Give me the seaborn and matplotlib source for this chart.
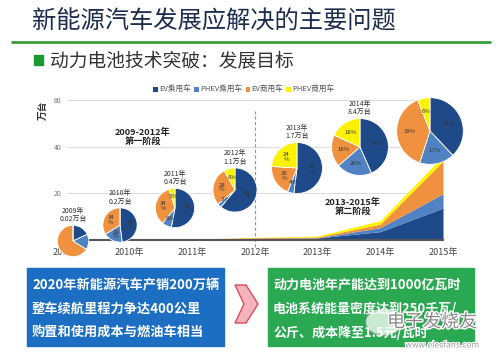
import matplotlib
matplotlib.use("Agg")  # headless rendering
import matplotlib.pyplot as plt
import matplotlib.patheffects as pe
from matplotlib.lines import Line2D
from matplotlib.patches import Rectangle, Polygon, Circle
import seaborn as sns

W, H = 500, 362

# ---- data (万台) ----
years = [2009, 2010, 2011, 2012, 2013, 2014, 2015]
year_labels = ["2009年", "2010年", "2011年", "2012年", "2013年", "2014年", "2015年"]
series_names = ["EV乘用车", "PHEV乘用车", "EV商用车", "PHEV商用车"]

ev_passenger = [0.004, 0.10, 0.21, 0.67, 0.88, 3.6, 13.7]
phev_passenger = [0.003, 0.04, 0.03, 0.03, 0.07, 1.7, 6.1]
ev_commercial = [0.013, 0.07, 0.14, 0.31, 0.34, 1.5, 14.0]
phev_commercial = [0.0, 0.0, 0.02, 0.09, 0.41, 1.5, 2.2]

pie_titles = ["2009年\n0.02万台", "2010年\n0.2万台", "2011年\n0.4万台", "2012年\n1.1万台",
              "2013年\n1.7万台", "2014年\n8.4万台", ""]
pie_shares = [
    [18, 16, 66, 0],
    [48, 18, 34, 0],
    [53, 8, 34, 5],
    [61, 3, 28, 8],
    [52, 4, 20, 24],
    [43, 20, 18, 18],
    [38, 17, 39, 6],
]
pie_show_pct = [False, True, True, True, True, True, True]

box_left_lines = ["2020年新能源汽车产销200万辆", "整车续航里程力争达400公里", "购置和使用成本与燃油车相当"]
box_right_lines = ["动力电池年产能达到1000亿瓦时", "电池系统能量密度达到250千瓦/", "公斤、成本降至1.5元/瓦时"]

# ---- layout (pixels) ----
pie_layout = [(73, 241, 16), (120, 225, 17.5), (175, 208, 20), (235, 190, 22.5),
              (297, 168, 26), (360, 147, 29), (430, 131, 34)]
colors = ["#1f4a8a", "#5082c4", "#f0913f", "#fff200"]


def fx(x):
    return x / W


def fy(y):
    return 1 - y / H


sns.set_style("white")
plt.rcParams["font.family"] = ["Noto Sans CJK SC", "DejaVu Sans"]

fig = plt.figure(figsize=(W / 100, H / 100), dpi=100)

# header
fig.text(fx(32), fy(22), "新能源汽车发展应解决的主要问题", fontsize=17.5, color="#1f2d4d",
         ha="left", va="center")
fig.add_artist(Line2D([fx(12), fx(490)], [fy(42), fy(42)], color="#3a9d3a", lw=2))
fig.add_artist(Rectangle((fx(34), fy(65)), 9 / W, 10 / H, color="#1a9a30"))
fig.text(fx(50), fy(61), "动力电池技术突破：发展目标", fontsize=13.5, color="#333333",
         ha="left", va="center")

# main area chart
ax = fig.add_axes([fx(67), fy(240), (443 - 67) / W, 140 / H])
ax.stackplot(years, ev_passenger, phev_passenger, ev_commercial, phev_commercial,
             colors=colors, labels=series_names, lw=0)
ax.set_xlim(2009, 2015)
ax.set_ylim(0, 60)
ax.set_yticks([0, 20, 40, 60])
ax.set_xticks(years)
ax.set_xticklabels(year_labels)
ax.tick_params(axis="x", labelsize=6.5, colors="#444444", length=0, pad=6)
ax.tick_params(axis="y", labelsize=5, colors="#777777", length=0, pad=4)
ax.yaxis.grid(True, color="#dcdcdc", lw=0.8)
for s in ["left", "right", "top"]:
    ax.spines[s].set_visible(False)
ax.spines["bottom"].set_color("#555555")
ax.spines["bottom"].set_linewidth(1.5)
ax.axvline(2012, ymin=-0.05, ymax=0.92, color="#8a9bb0", ls=(0, (3, 2)), lw=0.8, clip_on=False)
ax.set_axisbelow(True)

fig.text(fx(43), fy(110), "万台", rotation=90, fontsize=7, fontweight="bold",
         color="#333333", ha="center", va="center")
fig.legend(loc="center", bbox_to_anchor=(fx(244), fy(90)), ncol=4, fontsize=5.5,
           frameon=False, handlelength=0.6, handleheight=0.6, columnspacing=0.4,
           handletextpad=0.2, labelcolor="#555555")

# phase labels
fig.text(fx(143), fy(137), "2009-2012年\n第一阶段", fontsize=6.6, fontweight="bold",
         color="#222222", ha="center", va="center", linespacing=1.1)
fig.text(fx(353), fy(207), "2013-2015年\n第二阶段", fontsize=6.6, fontweight="bold",
         color="#222222", ha="center", va="center", linespacing=1.1)

# pies
for i, (cx, cy, r) in enumerate(pie_layout):
    pax = fig.add_axes([fx(cx - r), fy(cy + r), 2 * r / W, 2 * r / H])
    shares = pie_shares[i]
    big = r > 27

    def fmt(p, big=big):
        if p < 0.5:
            return ""
        if big or p < 10:
            return f"{p:.0f}%"
        return f"{p:.0f}\n%"

    pax.pie(shares, colors=colors, startangle=90, counterclock=False,
            wedgeprops=dict(edgecolor="white", linewidth=0.6),
            autopct=fmt if pie_show_pct[i] else None, pctdistance=0.6,
            textprops=dict(fontsize=4.3, color="#333333", linespacing=0.9))
    pax.set_xlim(-1.02, 1.02)
    pax.set_ylim(-1.02, 1.02)
    pax.set_aspect("equal")
    pax.axis("off")
    if pie_titles[i]:
        fig.text(fx(cx), fy(cy - r - 10), pie_titles[i], fontsize=5, color="#333333",
                 ha="center", va="center", linespacing=1.05)

# bottom boxes
fig.add_artist(Rectangle((fx(27), fy(346)), 197 / W, 78 / H, color="#1b6ec2"))
fig.add_artist(Rectangle((fx(268), fy(346)), 206 / W, 78 / H, color="#2aa952"))
for k, line in enumerate(box_left_lines):
    fig.text(fx(32), fy(285 + 24 * k), line, fontsize=9.5, fontweight="bold",
             color="white", ha="left", va="center")
for k, line in enumerate(box_right_lines):
    fig.text(fx(273), fy(285 + 24 * k), line, fontsize=9.4, fontweight="bold",
             color="white", ha="left", va="center")

chevron = [(235, 285), (246, 285), (258, 304), (246, 323), (235, 323), (244, 304)]
fig.add_artist(Polygon([(fx(x), fy(y)) for x, y in chevron], closed=True,
                       facecolor="#f6b3bb", edgecolor="#de4a5c", lw=1))

# watermark
fig.add_artist(Circle((fx(384), fy(322)), 18 / W, facecolor="white", alpha=0.75,
                      edgecolor="#bbbbbb", lw=0.8))
fig.text(fx(432), fy(322), "电子发烧友", fontsize=13, color="#8a8a8a", style="italic",
         ha="center", va="center",
         path_effects=[pe.withStroke(linewidth=2, foreground="white")])
fig.text(fx(442), fy(345), "www.elecfans.com", fontsize=6, color="#9a9a9a",
         ha="center", va="center",
         path_effects=[pe.withStroke(linewidth=1.5, foreground="white")])

fig.savefig("out.png", dpi=100)
plt.close(fig)
